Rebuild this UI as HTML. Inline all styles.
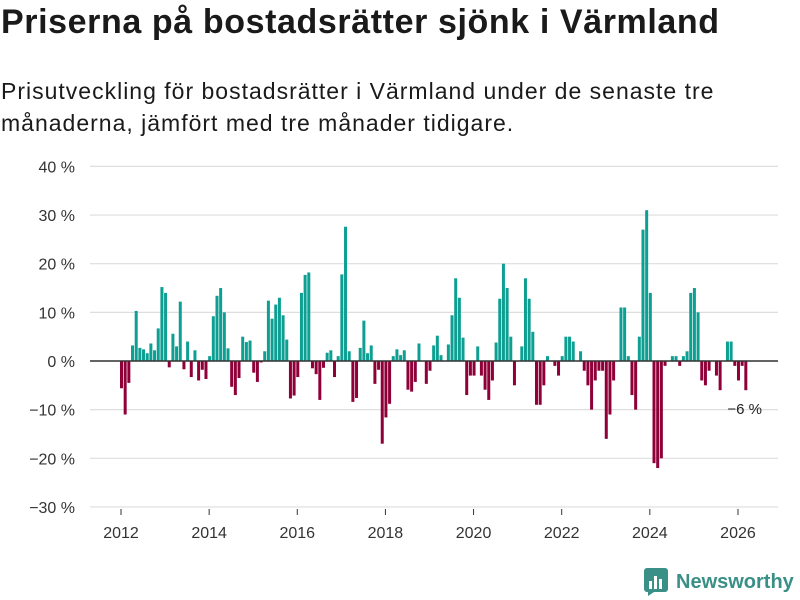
<!DOCTYPE html>
<html><head><meta charset="utf-8"><style>
body{margin:0;width:800px;height:600px;background:#fff;font-family:"Liberation Sans",sans-serif;color:#1a1a1a;overflow:hidden;position:relative}
#title{position:absolute;left:1px;top:3px;font-size:34px;font-weight:bold;margin:0;letter-spacing:0.6px}
#sub{position:absolute;left:1px;top:75px;font-size:23px;line-height:32px;width:720px;margin:0;letter-spacing:1px}
svg{position:absolute;left:0;top:0}
</style></head><body>
<h1 id="title">Priserna på bostadsrätter sjönk i Värmland</h1>
<p id="sub">Prisutveckling för bostadsrätter i Värmland under de senaste tre månaderna, jämfört med tre månader tidigare.</p>
<svg id="chart" width="800" height="600"></svg>
<script>
const values = [-5.6,-11,-4.5,3.2,10.3,2.7,2.4,1.6,3.6,2.2,6.7,15.2,14,-1.3,5.6,3,12.2,-1.7,4,-3.3,2.2,-4,-1.8,-3.7,1,9.2,13.4,15,10,2.6,-5.3,-7,-3.5,5,3.9,4.2,-2.4,-4.3,-0.3,2,12.4,8.7,11.6,13,9.4,4.4,-7.7,-7.1,-3.3,14,17.7,18.2,-1.5,-2.7,-8,-1.4,1.7,2.2,-3.3,1,17.8,27.6,2,-8.4,-7.6,2.7,8.3,1.6,3.2,-4.7,-1.8,-17,-11.6,-8.8,1,2.4,1.2,2.2,-5.9,-6.3,-4.3,3.6,0,-4.7,-2,3.2,5.2,1.2,0,3.4,9.4,17,13,4.8,-7,-3,-3,3,-3,-5.9,-8,-4,3.8,12.8,20,15,5,-5,0,3,17,12.8,6,-9,-9,-5,1,0,-1,-3,1,5,5,4,0,2,-2,-5,-10,-4,-2,-2,-16,-11,-4,0,11,11,1,-7,-10,5,27,31,14,-21,-22,-20,-1,0,1,1,-1,1,2,14,15,10,-4,-5,-2,0,-3,-6,0,4,4,-1,-4,-1,-6];
const yTicks = [40,30,20,10,0,-10,-20,-30];
const xTicks = [2012,2014,2016,2018,2020,2022,2024,2026];
const startYear = 2012;
const lastLabel = "−6 %";

const svg = document.getElementById('chart');
const NS = 'http://www.w3.org/2000/svg';
const y = v => 361 - v * 4.865;
const x = m => 121 + m * 3.6725;
function mk(tag, attrs){const e=document.createElementNS(NS,tag);for(const k in attrs)e.setAttribute(k,attrs[k]);svg.appendChild(e);return e;}
yTicks.forEach(t=>{
  const l=mk('line',{x1:90,x2:778,y1:y(t),y2:y(t),stroke:'#dedede','stroke-width':1.2});
  
  
  const tx=mk('text',{x:75,y:y(t)+6,'text-anchor':'end','font-size':16,fill:'#333','font-family':'Liberation Sans, sans-serif'});
  tx.textContent=(t<0?'−'+(-t):t)+' %';
  
  
});
xTicks.forEach(yr=>{
  const m=(yr-startYear)*12;
  const l=mk('line',{x1:x(m),x2:x(m),y1:509,y2:515,stroke:'#333','stroke-width':1});
  
  
  const tx=mk('text',{x:x(m),y:538,'text-anchor':'middle','font-size':16,fill:'#333','font-family':'Liberation Sans, sans-serif'});
  tx.textContent=yr;
  
  
});
values.forEach((v,i)=>{
  const top=Math.min(y(v),y(0)), h=Math.abs(y(v)-y(0));
  const r=mk('rect',{x:x(i)-1,y:top,width:3,height:h,fill:v>=0?'#0e9f93':'#8f0039'});
  
  
});
const z=mk('line',{x1:90,x2:778,y1:y(0),y2:y(0),stroke:'#333','stroke-width':1.5});


const lv=values[values.length-1];
const lab=mk('text',{x:x(values.length-1)-18,y:y(lv)+24,'text-anchor':'start','font-size':15,fill:'#222','font-family':'Liberation Sans, sans-serif'});
lab.textContent=lastLabel;


</script>
<div style="position:absolute;left:644px;top:568px;display:flex;align-items:center">
<svg width="26" height="28" style="position:static"><rect x="0" y="0" width="24" height="24" rx="3" fill="#3a8f86"/><rect x="5" y="13" width="3" height="8" fill="#fff"/><rect x="10" y="8" width="3" height="13" fill="#fff"/><rect x="15" y="11" width="3" height="10" fill="#fff"/><polygon points="4,24 10,24 4,28" fill="#3a8f86"/></svg>
<span style="font-size:20px;font-weight:bold;color:#3a8f86;margin-left:6px">Newsworthy</span>
</div>
</body></html>
